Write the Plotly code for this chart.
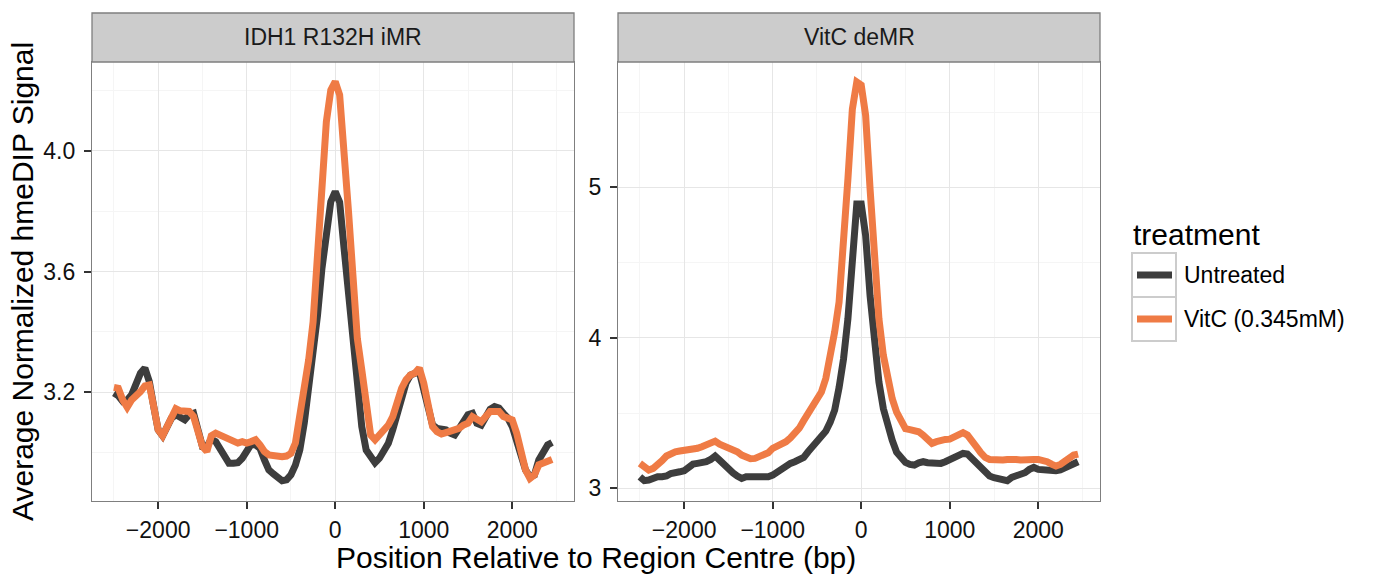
import plotly.graph_objects as go

W, H = 1374, 574

# ---------------- data ----------------
positions = list(range(-2500, 2451, 50))

idh_untreated = [
    3.197, 3.188, 3.169, 3.174, 3.191, 3.230, 3.263, 3.280, 3.235, 3.152,
    3.075, 3.055, 3.080, 3.114, 3.125, 3.119, 3.108, 3.125, 3.130, 3.075,
    3.020, 3.020, 3.044, 3.036, 3.008, 2.986, 2.964, 2.964, 2.966, 2.981,
    3.008, 3.027, 3.025, 3.014, 2.975, 2.942, 2.929, 2.914, 2.906, 2.909,
    2.926, 2.958, 3.008, 3.097, 3.208, 3.300, 3.455, 3.610, 3.720, 3.832,
    3.865, 3.830, 3.677, 3.520, 3.367, 3.245, 3.086, 3.008, 2.986, 2.966,
    2.981, 3.008, 3.030, 3.075, 3.130, 3.185, 3.230, 3.257, 3.263, 3.268,
    3.208, 3.147, 3.091, 3.080, 3.077, 3.075, 3.064, 3.058, 3.080, 3.106,
    3.125, 3.130, 3.097, 3.091, 3.119, 3.143, 3.152, 3.147, 3.130, 3.114,
    3.086, 3.036, 2.986, 2.942, 2.920, 2.925, 2.975, 3.003, 3.025, 3.033,
]
idh_vitc = [
    3.216, 3.213, 3.174, 3.150, 3.174, 3.186, 3.202, 3.221, 3.224, 3.152,
    3.075, 3.055, 3.086, 3.119, 3.145, 3.138, 3.136, 3.136, 3.119, 3.075,
    3.020, 3.003, 3.055, 3.064, 3.058, 3.047, 3.042, 3.036, 3.031, 3.036,
    3.031, 3.036, 3.042, 3.025, 3.003, 2.992, 2.988, 2.984, 2.986, 2.988,
    2.997, 3.031, 3.119, 3.208, 3.307, 3.433, 3.644, 3.865, 4.097, 4.202,
    4.230, 4.186, 4.010, 3.800, 3.588, 3.378, 3.274, 3.141, 3.058, 3.042,
    3.058, 3.080, 3.091, 3.119, 3.174, 3.213, 3.241, 3.257, 3.263, 3.280,
    3.230, 3.163, 3.086, 3.069, 3.061, 3.066, 3.069, 3.075, 3.080, 3.091,
    3.097, 3.119, 3.108, 3.102, 3.119, 3.136, 3.136, 3.136, 3.119, 3.114,
    3.108, 3.064, 2.997, 2.942, 2.914, 2.925, 2.959, 2.964, 2.975, 2.977,
]
vitc_untreated = [
    3.077, 3.051, 3.055, 3.071, 3.077, 3.077, 3.082, 3.099, 3.110, 3.110,
    3.117, 3.139, 3.161, 3.166, 3.166, 3.177, 3.192, 3.215, 3.188, 3.155,
    3.126, 3.104, 3.082, 3.066, 3.077, 3.077, 3.073, 3.073, 3.073, 3.077,
    3.088, 3.110, 3.126, 3.144, 3.166, 3.177, 3.188, 3.206, 3.243, 3.277,
    3.305, 3.340, 3.380, 3.440, 3.520, 3.670, 3.860, 4.127, 4.526, 4.890,
    4.890, 4.680, 4.280, 3.930, 3.706, 3.530, 3.400, 3.320, 3.240, 3.198,
    3.172, 3.159, 3.155, 3.170, 3.177, 3.170, 3.166, 3.166, 3.166, 3.177,
    3.192, 3.210, 3.228, 3.232, 3.228, 3.199, 3.161, 3.137, 3.104, 3.082,
    3.071, 3.062, 3.055, 3.051, 3.073, 3.084, 3.088, 3.104, 3.126, 3.139,
    3.126, 3.122, 3.122, 3.117, 3.117, 3.122, 3.133, 3.144, 3.155, 3.177,
]
vitc_vitc = [
    3.166, 3.139, 3.122, 3.133, 3.155, 3.184, 3.215, 3.232, 3.243, 3.248,
    3.250, 3.254, 3.259, 3.266, 3.277, 3.292, 3.310, 3.314, 3.294, 3.283,
    3.277, 3.266, 3.243, 3.221, 3.206, 3.197, 3.199, 3.210, 3.221, 3.237,
    3.266, 3.281, 3.288, 3.310, 3.335, 3.360, 3.400, 3.450, 3.495, 3.540,
    3.595, 3.640, 3.730, 3.860, 4.039, 4.238, 4.590, 5.058, 5.520, 5.700,
    5.680, 5.478, 4.990, 4.504, 4.127, 3.884, 3.730, 3.596, 3.507, 3.440,
    3.396, 3.390, 3.387, 3.376, 3.354, 3.321, 3.299, 3.310, 3.321, 3.325,
    3.327, 3.339, 3.361, 3.370, 3.354, 3.321, 3.277, 3.237, 3.206, 3.192,
    3.188, 3.188, 3.188, 3.192, 3.197, 3.192, 3.188, 3.192, 3.192, 3.192,
    3.192, 3.188, 3.177, 3.161, 3.148, 3.159, 3.184, 3.206, 3.221, 3.228,
]

panels = ["IDH1 R132H iMR", "VitC deMR"]
treatments = ["Untreated", "VitC (0.345mM)"]
x_ticks = [-2000, -1000, 0, 1000, 2000]
x_minor = [-2500, -1500, -500, 500, 1500, 2500]
y1_ticks = [3.2, 3.6, 4.0]
y1_ticktext = ["3.2", "3.6", "4.0"]
y1_minor = [3.0, 3.4, 3.8, 4.2]
y2_ticks = [3, 4, 5]
y2_minor = [3.5, 4.5, 5.5]

# ---------------- style ----------------
FONT = "Liberation Sans, Arial, Helvetica, sans-serif"
COLORS = {"Untreated": "#3D3D3D", "VitC (0.345mM)": "#EF7B45"}
LW = 7

def px_x(p):
    return p / W

def px_y(p):
    return 1 - p / H

L_X0, L_X1 = 92, 574
R_X0, R_X1 = 618, 1100
P_TOP, P_BOT = 62, 501
S_TOP = 13

fig = go.Figure()
series = {
    ("x", "y"): {"Untreated": idh_untreated, "VitC (0.345mM)": idh_vitc},
    ("x2", "y2"): {"Untreated": vitc_untreated, "VitC (0.345mM)": vitc_vitc},
}
for (xa, ya), d in series.items():
    for t in treatments:
        fig.add_trace(go.Scatter(
            x=positions, y=d[t], mode="lines", name=t,
            line=dict(color=COLORS[t], width=LW),
            xaxis=xa, yaxis=ya, showlegend=False,
        ))

axis_common = dict(
    showgrid=True, gridcolor="#E6E6E6", gridwidth=1.3,
    zeroline=False, showline=True, mirror=True,
    linecolor="#7F7F7F", linewidth=1.3,
    ticks="outside", ticklen=7, tickwidth=2, tickcolor="#333333",
    tickfont=dict(family=FONT, size=23, color="#111111"),
)
minor_common = dict(tickmode="array", showgrid=True,
                    gridcolor="#F5F5F5", gridwidth=1.3, ticks="")
x_range = [-2747.5, 2697.5]
fig.update_layout(
    xaxis=dict(domain=[px_x(L_X0), px_x(L_X1)], range=x_range, anchor="y",
               tickmode="array", tickvals=x_ticks, ticklabelstandoff=1,
               minor=dict(tickvals=x_minor, **minor_common),
               **axis_common),
    xaxis2=dict(domain=[px_x(R_X0), px_x(R_X1)], range=x_range, anchor="y2",
                tickmode="array", tickvals=x_ticks, ticklabelstandoff=1,
                minor=dict(tickvals=x_minor, **minor_common),
                **axis_common),
    yaxis=dict(domain=[px_y(P_BOT), px_y(P_TOP)], range=[2.839, 4.295], anchor="x",
               tickmode="array", tickvals=y1_ticks, ticktext=y1_ticktext,
               ticklabelstandoff=4,
               minor=dict(tickvals=y1_minor, **minor_common),
               **axis_common),
    yaxis2=dict(domain=[px_y(P_BOT), px_y(P_TOP)], range=[2.916, 5.833], anchor="x2",
                tickmode="array", tickvals=y2_ticks,
                ticklabelstandoff=4,
                minor=dict(tickvals=y2_minor, **minor_common),
                **axis_common),
    width=W, height=H,
    margin=dict(l=0, r=0, t=0, b=0, autoexpand=False),
    paper_bgcolor="white", plot_bgcolor="white",
    showlegend=False,
    font=dict(family=FONT, color="#000000"),
)

shapes = []
annotations = []
# strips
for (x0, x1), label in zip([(L_X0, L_X1), (R_X0, R_X1)], panels):
    shapes.append(dict(type="rect", xref="paper", yref="paper",
                       x0=px_x(x0), x1=px_x(x1), y0=px_y(P_TOP), y1=px_y(S_TOP),
                       fillcolor="#CCCCCC", line=dict(color="#7F7F7F", width=1.3),
                       layer="above"))
    annotations.append(dict(text=label, xref="paper", yref="paper",
                            x=px_x((x0 + x1) / 2), y=px_y((S_TOP + P_TOP) / 2),
                            xanchor="center", yanchor="middle", showarrow=False,
                            font=dict(family=FONT, size=23, color="#1A1A1A")))

# axis titles
annotations.append(dict(text="Position Relative to Region Centre (bp)",
                        xref="paper", yref="paper", x=px_x(596), y=px_y(557),
                        xanchor="center", yanchor="middle", showarrow=False,
                        font=dict(family=FONT, size=30, color="#000000")))
annotations.append(dict(text="Average Normalized hmeDIP Signal",
                        xref="paper", yref="paper", x=px_x(22), y=px_y(282),
                        xanchor="center", yanchor="middle", showarrow=False,
                        textangle=-90,
                        font=dict(family=FONT, size=30, color="#000000")))

# legend (drawn manually to match ggplot key boxes)
annotations.append(dict(text="treatment", xref="paper", yref="paper",
                        x=px_x(1131), y=px_y(234), xanchor="left", yanchor="middle",
                        showarrow=False,
                        font=dict(family=FONT, size=30, color="#000000")))
key_tops = [253, 297]
for t, top in zip(treatments, key_tops):
    shapes.append(dict(type="rect", xref="paper", yref="paper",
                       x0=px_x(1132), x1=px_x(1176), y0=px_y(top + 44), y1=px_y(top),
                       fillcolor="white", line=dict(color="#CCCCCC", width=2)))
    ymid = top + 22
    shapes.append(dict(type="line", xref="paper", yref="paper",
                       x0=px_x(1137), x1=px_x(1172), y0=px_y(ymid), y1=px_y(ymid),
                       line=dict(color=COLORS[t], width=7)))
    annotations.append(dict(text=t, xref="paper", yref="paper",
                            x=px_x(1182), y=px_y(ymid), xanchor="left", yanchor="middle",
                            showarrow=False,
                            font=dict(family=FONT, size=23, color="#000000")))

fig.update_layout(shapes=shapes, annotations=annotations)
fig.write_html("out.html")
